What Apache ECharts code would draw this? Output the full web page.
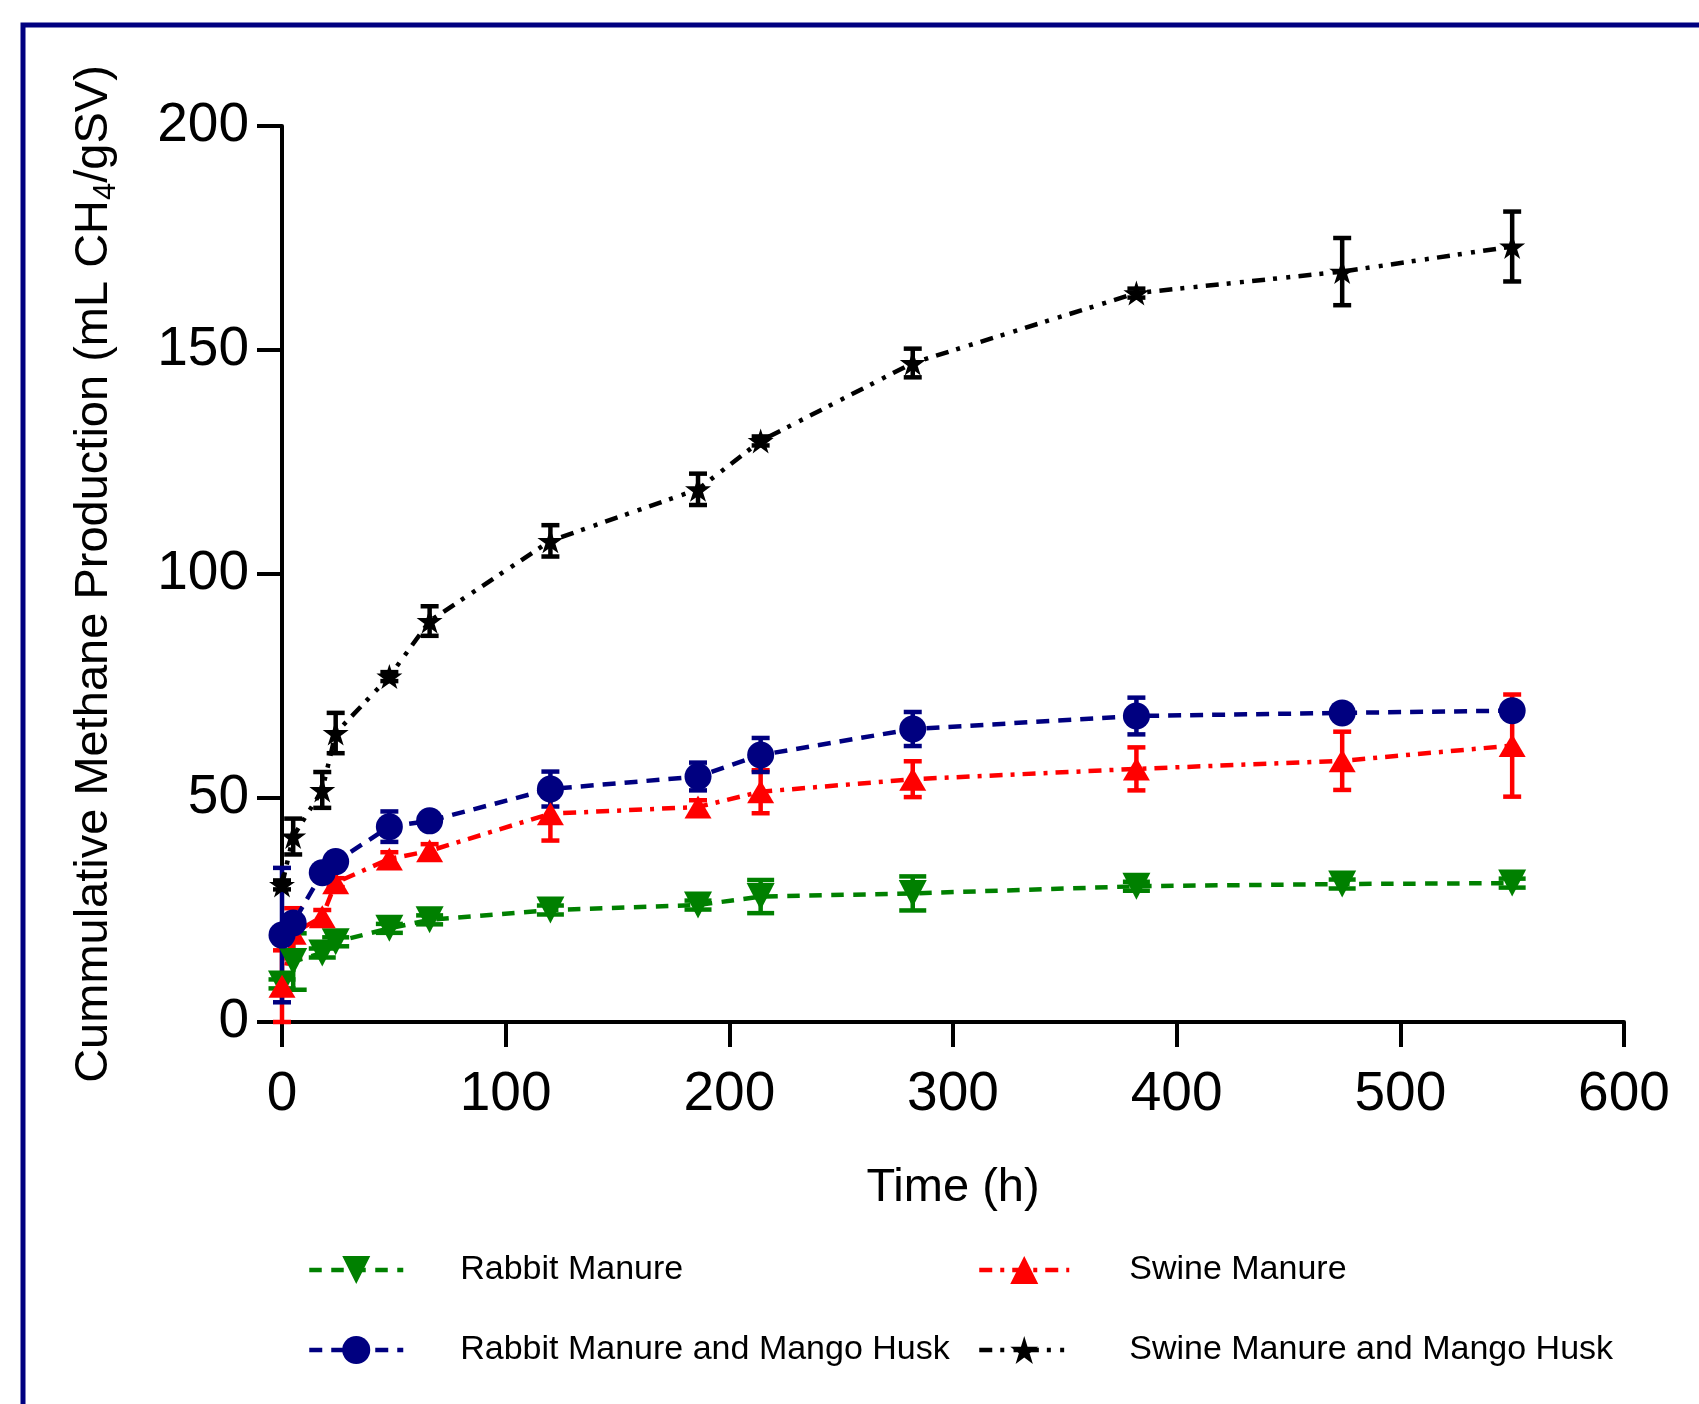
<!DOCTYPE html>
<html><head><meta charset="utf-8">
<script src="https://cdn.jsdelivr.net/npm/echarts@6/dist/echarts.min.js"></script>
<style>html,body{margin:0;padding:0;background:#fff}#c{width:1699px;height:1404px}</style>
</head><body><div id="c"></div>
<script>
// ---- data ----
const time = [0, 5, 18, 24, 48, 66, 120, 186, 214, 282, 382, 474, 550];
const seriesNames = ['Rabbit Manure', 'Swine Manure', 'Rabbit Manure and Mango Husk', 'Swine Manure and Mango Husk'];
const rabbit   = [8.5, 13.5, 15.4, 17.9, 20.9, 22.8, 25.0, 26.1, 28.0, 28.7, 30.3, 30.8, 31.0];
const rabbitSd = [1.0, 6.3, 1.0, 1.0, 1.0, 1.0, 1.0, 1.0, 3.7, 3.8, 1.0, 1.0, 1.0];
const swine    = [8.0, 19.8, 23.5, 31.1, 36.4, 38.2, 46.5, 48.0, 51.4, 54.2, 56.5, 58.3, 61.7];
const swineSd  = [8.0, 5.6, 1.5, 1.0, 1.5, 1.5, 6.0, 1.5, 4.8, 4.0, 4.8, 6.5, 11.4];
const rmmh     = [19.4, 22.1, 33.3, 35.8, 43.6, 44.9, 52.0, 54.8, 59.6, 65.4, 68.3, 69.0, 69.5];
const rmmhSd   = [15.0, 1.5, 1.0, 1.0, 3.4, 1.0, 3.9, 3.1, 3.8, 3.8, 4.1, 1.5, 1.5];
const smmh     = [30.6, 41.4, 51.8, 64.5, 77.1, 89.5, 107.4, 118.9, 129.7, 147.1, 162.7, 167.5, 173.1];
const smmhSd   = [1.0, 4.0, 4.0, 4.5, 1.0, 3.3, 3.5, 3.5, 1.0, 3.2, 1.0, 7.5, 7.8];
const xTicks = [0, 100, 200, 300, 400, 500, 600];
const yTicks = [0, 50, 100, 150, 200];

// ---- chart ----
const FONT = 'Liberation Sans, Arial, sans-serif';
const STAR = 'path://M50,0 L61.2,34.5 L97.6,34.5 L68.2,55.9 L79.4,90.5 L50,69.1 L20.6,90.5 L31.8,55.9 L2.4,34.5 L38.8,34.5 Z';
const chart = echarts.init(document.getElementById('c'), null, {renderer: 'canvas'});

function pts(vals) { return time.map((t, i) => [t, vals[i]]); }
function errSeries(name, vals, sds, color, half) {
  return {
    type: 'custom', name: name, z: 1, silent: true, clip: false,
    data: time.map((t, i) => [t, vals[i], sds[i]]),
    encode: {x: 0, y: 1},
    renderItem: function (params, api) {
      const x = api.value(0), y = api.value(1), s = api.value(2);
      const p1 = api.coord([x, y + s]), p2 = api.coord([x, y - s]);
      const style = {stroke: color, lineWidth: 4.5};
      return {type: 'group', children: [
        {type: 'line', shape: {x1: p1[0], y1: p1[1], x2: p2[0], y2: p2[1]}, style: style},
        {type: 'line', shape: {x1: p1[0] - half, y1: p1[1], x2: p1[0] + half, y2: p1[1]}, style: style},
        {type: 'line', shape: {x1: p2[0] - half, y1: p2[1], x2: p2[0] + half, y2: p2[1]}, style: style}
      ]};
    }
  };
}
function lineSeries(name, vals, color, symbol, size, rotate, dash) {
  return {
    type: 'line', name: name, data: pts(vals), z: 2, clip: false,
    symbol: symbol, symbolSize: size, symbolRotate: rotate, showAllSymbol: true,
    itemStyle: {color: color},
    lineStyle: {color: color, width: 4.5, type: dash}
  };
}
const lbl = {fontFamily: FONT, fontSize: 34, color: '#000'};
function legendAt(name, left, top, w, pad) {
  return {left: left, top: top, itemWidth: w, itemHeight: 35, data: [name],
          selectedMode: false, lineStyle: {width: 4.5},
          textStyle: Object.assign({padding: [0, 0, 0, pad]}, lbl)};
}

chart.setOption({
  animation: false,
  backgroundColor: '#fff',
  grid: {left: 282, right: 75, top: 126, bottom: 382, outerBoundsMode: 'none'},
  graphic: [{type: 'rect', shape: {x: 23, y: 25, width: 1800, height: 1600},
             style: {fill: null, stroke: '#000080', lineWidth: 5}, silent: true}],
  xAxis: {
    type: 'value', min: 0, max: 600, interval: 100,
    name: 'Time (h)', nameLocation: 'middle', nameGap: 143,
    nameTextStyle: {fontFamily: FONT, fontSize: 47, color: '#000'},
    axisLine: {lineStyle: {color: '#000', width: 4}},
    axisTick: {length: 25, lineStyle: {color: '#000', width: 4}},
    axisLabel: {fontFamily: FONT, fontSize: 55, color: '#000', margin: 45,
                formatter: v => xTicks.indexOf(v) >= 0 ? String(v) : ''},
    splitLine: {show: false}
  },
  yAxis: {
    type: 'value', min: 0, max: 200, interval: 50,
    name: 'Cummulative Methane Production (mL CH{sub|4}/gSV)', nameLocation: 'middle', nameGap: 160,
    nameTextStyle: {fontFamily: FONT, fontSize: 47, color: '#000', lineHeight: 56,
      rich: {sub: {fontFamily: FONT, fontSize: 31, color: '#000', lineHeight: 31, verticalAlign: 'bottom'}}},
    axisLine: {show: true, lineStyle: {color: '#000', width: 4}},
    axisTick: {show: true, length: 25, lineStyle: {color: '#000', width: 4}},
    axisLabel: {fontFamily: FONT, fontSize: 55, color: '#000', margin: 33,
                formatter: v => yTicks.indexOf(v) >= 0 ? String(v) : ''},
    splitLine: {show: false}
  },
  legend: [
    legendAt(seriesNames[0], 302, 1248, 94, 52),
    legendAt(seriesNames[1], 972, 1248, 90, 55),
    legendAt(seriesNames[2], 302, 1328, 94, 52),
    legendAt(seriesNames[3], 972, 1328, 90, 55)
  ],
  series: [
    errSeries('err0', rabbit, rabbitSd, '#008000', 13.5),
    lineSeries(seriesNames[0], rabbit, '#008000', 'triangle', [28, 27], 180, [12.5, 9.5]),
    errSeries('err1', swine, swineSd, '#ff0000', 9),
    lineSeries(seriesNames[1], swine, '#ff0000', 'triangle', [27, 23], 0, [13, 8, 4, 8]),
    errSeries('err2', rmmh, rmmhSd, '#000080', 9),
    lineSeries(seriesNames[2], rmmh, '#000080', 'circle', 27, 0, [13, 9]),
    errSeries('err3', smmh, smmhSd, '#000000', 9),
    lineSeries(seriesNames[3], smmh, '#000000', STAR, [26, 25], 0, [13, 8, 4, 9.3, 4, 8.3])
  ]
});
</script></body></html>
